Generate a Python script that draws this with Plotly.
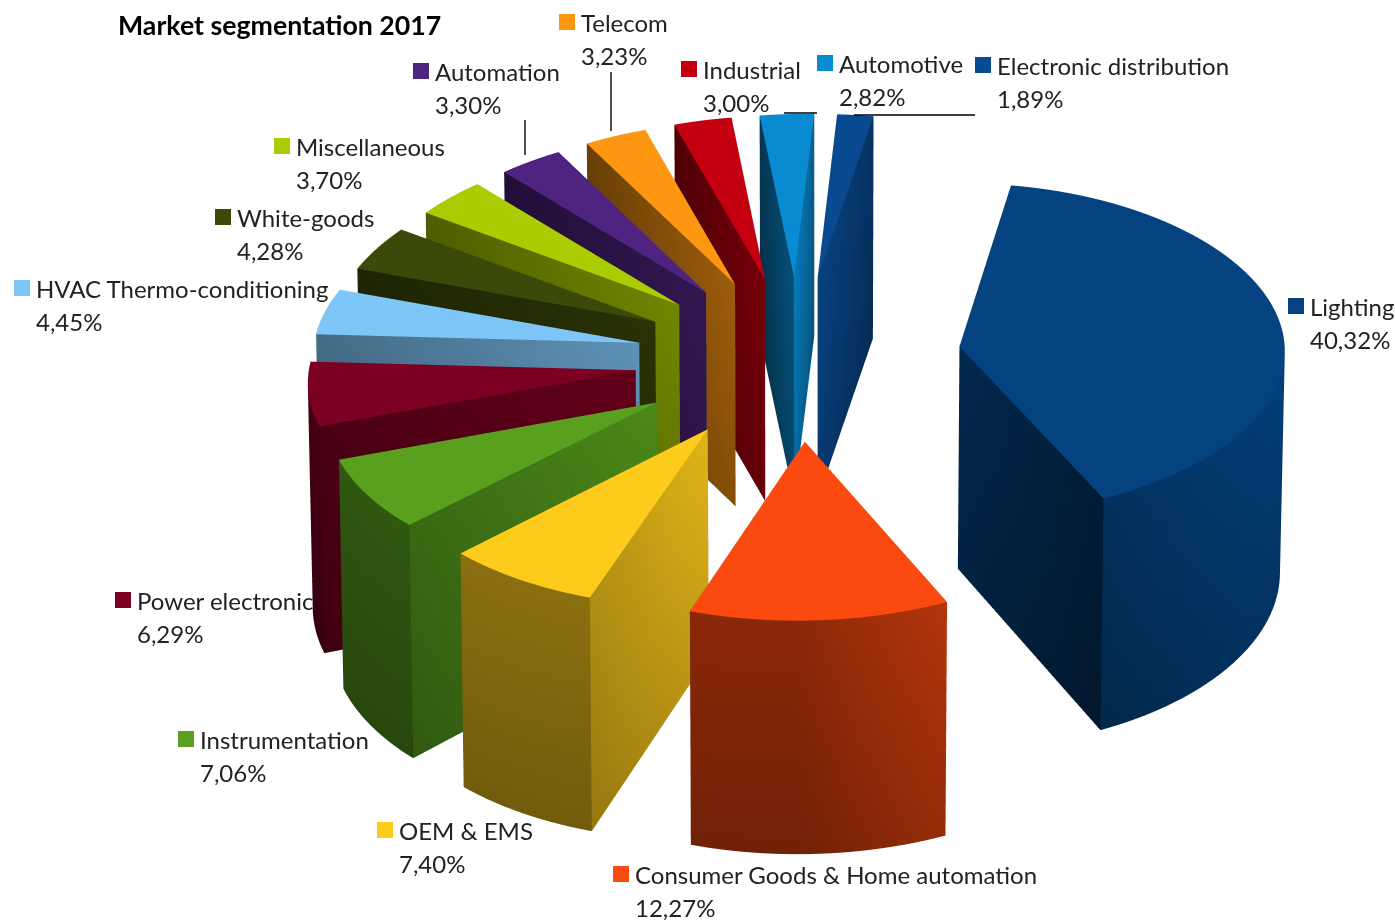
import numpy as np
import plotly.graph_objects as go

categories = ["Lighting", "Consumer Goods & Home automation", "OEM & EMS", "Instrumentation",
              "Power electronic", "HVAC Thermo-conditioning", "White-goods", "Miscellaneous",
              "Automation", "Telecom", "Industrial", "Automotive", "Electronic distribution"]
values = [40.32, 12.27, 7.40, 7.06, 6.29, 4.45, 4.28, 3.70, 3.30, 3.23, 3.00, 2.82, 1.89]
colors = ["#04437F", "#FB4A10", "#FDCB1C", "#58A01E", "#7C0022", "#7FC6F8", "#3B4A08", "#AACC00",
          "#4F2480", "#FD9712", "#C40010", "#0A8AD0", "#0A4A90"]
value_labels = ["40,32%", "12,27%", "7,40%", "7,06%", "6,29%", "4,45%", "4,28%", "3,70%",
                "3,30%", "3,23%", "3,00%", "2,82%", "1,89%"]
label_px = [(1288, 298), (613, 866), (377, 822), (178, 731), (115, 592), (14, 280), (215, 209),
            (274, 138), (413, 63), (559, 14), (681, 61), (817, 55), (975, 57)]

W, H = 1395, 922
explode = 0.5
thick = 0.787
start_deg = 9
RNG = 1.8
ZPAD = 0.1
CX, CY = 798, 357
DIST = 2.0
ZOOM = 2.45 * RNG / 1.7


def shade(hexc, f):
    r, g, b = int(hexc[1:3], 16), int(hexc[3:5], 16), int(hexc[5:7], 16)
    return "rgb(%d,%d,%d)" % (min(255, r * f), min(255, g * f), min(255, b * f))


def warp(x, y, z):
    """Mild foreshortening: far rim narrower, near rim larger and taller."""
    s = (1 - 0.035 * y) * (1 - 0.01 * (thick - z) / thick)
    xw = x * s + 0.025 * y
    yw = y - 0.11 * (y / 1.5) ** 2 if y < 0 else y
    zw = z - 0.04 * (1 - z / thick) * min(1, max(0, -y))
    return xw, yw, zw


fig = go.Figure()
total = sum(values)
a0 = np.deg2rad(start_deg)
for v, c in zip(values, colors):
    sweep = v / total * 2 * np.pi
    n = max(4, int(v * 2))
    th = a0 + np.linspace(0, sweep, n + 1)  # clockwise from 12 o'clock
    mid = a0 + sweep / 2
    ox, oy = explode * np.sin(mid), explode * np.cos(mid)
    px, py = ox + np.sin(th), oy + np.cos(th)
    X, Y, Z, VC, I, J, K = [], [], [], [], [], [], []

    def vert(x, y, z, col):
        xw, yw, zw = warp(x, y, z)
        X.append(xw); Y.append(yw); Z.append(zw); VC.append(col)
        return len(X) - 1

    # top face
    ap = vert(ox, oy, thick, shade(c, 1.0))
    rim = [vert(px[k], py[k], thick, shade(c, 1.0)) for k in range(n + 1)]
    for k in range(n):
        I.append(ap); J.append(rim[k]); K.append(rim[k + 1])
    # outer side: lit from the right, darker towards the front-left
    light = 0.55 + 0.4 * np.maximum(0, np.cos(th - np.pi / 2))
    st = [vert(px[k], py[k], thick, shade(c, light[k])) for k in range(n + 1)]
    sb = [vert(px[k], py[k], 0, shade(c, light[k] * 0.82)) for k in range(n + 1)]
    for k in range(n):
        I += [st[k], st[k + 1]]; J += [st[k + 1], sb[k + 1]]; K += [sb[k], sb[k]]
    # the two cut faces, lit according to the direction they face
    for idx, nx in ((0, -np.cos(th[0])), (n, np.cos(th[n]))):
        f = 0.65 + 0.15 * nx
        a = vert(ox, oy, thick, shade(c, f + 0.1))
        b = vert(ox, oy, 0, shade(c, (f + 0.1) * 0.86))
        d = vert(px[idx], py[idx], thick, shade(c, f - 0.1))
        e = vert(px[idx], py[idx], 0, shade(c, (f - 0.1) * 0.86))
        I += [a, a]; J += [d, e]; K += [e, b]
    fig.add_trace(go.Mesh3d(x=X, y=Y, z=Z, i=I, j=J, k=K, vertexcolor=VC,
                            flatshading=True, hoverinfo="skip",
                            lighting=dict(ambient=1, diffuse=0, specular=0, roughness=1, fresnel=0)))
    a0 += sweep

ann = []
shapes = []
for cat, lab, (px_, py_), c in zip(categories, value_labels, label_px, colors):
    shapes.append(dict(type="rect", xref="paper", yref="paper", x0=px_ / W, x1=(px_ + 16) / W,
                       y0=1 - (py_ + 16) / H, y1=1 - py_ / H, fillcolor=c, line_width=0))
    for text, dy in ((cat, -8), (lab, 25)):
        ann.append(dict(xref="paper", yref="paper", x=(px_ + 20) / W, y=1 - (py_ + dy) / H, xanchor="left",
                        yanchor="top", showarrow=False, align="left", text=text,
                        font=dict(family="Lato", size=24, color="#222")))
ann.append(dict(xref="paper", yref="paper", x=116 / W, y=1 - 7 / H, xanchor="left", yanchor="top",
                showarrow=False, text="<b>Market segmentation 2017</b>",
                font=dict(family="Lato", size=26.7, color="#000")))
for (x0, y0, x1, y1) in [(525, 120, 525, 155), (611, 72, 611, 131), (784, 113, 817, 113), (854, 115, 975, 115)]:
    shapes.append(dict(type="line", xref="paper", yref="paper", x0=x0 / W, x1=x1 / W, y0=1 - y0 / H, y1=1 - y1 / H,
                       line=dict(color="black", width=1.4)))

el = np.deg2rad(30)
cz_px = CY + 225 / 2
half_w = min(CX, W - CX)
half_h = min(cz_px, H - cz_px)
ax = dict(visible=False, range=[-RNG, RNG], autorange=False)
axz = dict(visible=False, range=[-ZPAD, thick + ZPAD], autorange=False)
fig.update_layout(width=W, height=H, margin=dict(l=0, r=0, t=0, b=0), showlegend=False,
                  paper_bgcolor="white", annotations=ann, shapes=shapes,
                  scene=dict(xaxis=ax, yaxis=ax, zaxis=axz, aspectmode="manual",
                             aspectratio=dict(x=ZOOM, y=ZOOM, z=ZOOM * (thick + 2 * ZPAD) / (2 * RNG)),
                             domain=dict(x=[(CX - half_w) / W, (CX + half_w) / W],
                                         y=[1 - (cz_px + half_h) / H, 1 - (cz_px - half_h) / H]),
                             camera=dict(eye=dict(x=0, y=-DIST * np.cos(el), z=DIST * np.sin(el)),
                                         up=dict(x=0, y=0, z=1), center=dict(x=0, y=0, z=0),
                                         projection=dict(type="orthographic"))))
fig.write_html("out.html", post_script="document.body.style.margin='0';", config=dict(displayModeBar=False))
